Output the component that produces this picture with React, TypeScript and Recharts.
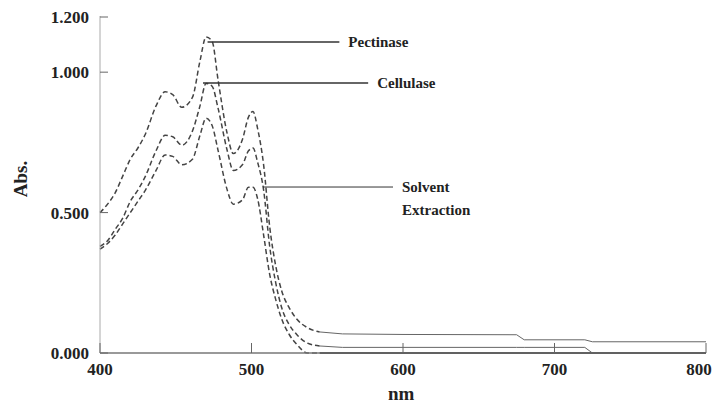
import React from 'react';
import { LineChart, Line, XAxis, YAxis, ReferenceLine } from 'recharts';

// wavelengths (nm) for the absorption band region
const peakNm = [400, 405, 410, 415, 420, 425, 430, 437, 443, 448, 454, 461, 466, 470, 474, 478, 484, 488, 494, 498, 501, 504, 508, 512, 516, 520, 525, 530, 537, 545];
const pectinasePeak = [0.50, 0.53, 0.57, 0.63, 0.69, 0.73, 0.78, 0.88, 0.93, 0.92, 0.875, 0.91, 1.04, 1.125, 1.11, 0.97, 0.78, 0.71, 0.76, 0.84, 0.86, 0.80, 0.67, 0.45, 0.31, 0.22, 0.16, 0.12, 0.09, 0.075];
const cellulasePeak = [0.38, 0.40, 0.44, 0.48, 0.54, 0.58, 0.63, 0.72, 0.775, 0.77, 0.74, 0.79, 0.88, 0.96, 0.95, 0.87, 0.72, 0.65, 0.67, 0.72, 0.73, 0.68, 0.58, 0.38, 0.25, 0.16, 0.10, 0.065, 0.035, 0.025];
const solventPeak = [0.37, 0.39, 0.42, 0.46, 0.50, 0.54, 0.58, 0.65, 0.705, 0.70, 0.67, 0.69, 0.775, 0.836, 0.81, 0.72, 0.58, 0.53, 0.545, 0.59, 0.59, 0.55, 0.42, 0.28, 0.19, 0.12, 0.065, 0.03, 0.0, 0.0];

// flat baseline part
const tailNm = [545, 560, 600, 675, 680, 720, 725, 800];
const pectinaseTail = [0.075, 0.068, 0.066, 0.065, 0.047, 0.047, 0.04, 0.04];
const cellulaseTail = [0.025, 0.02, 0.02, 0.02, 0.02, 0.02, 0.0, 0.0];
const solventTail = [0, 0, 0, 0, 0, 0, 0, 0];

const xTicks = [400, 500, 600, 700, 800];
const yTicks = [0, 0.5, 1.0, 1.2];

const peakRows = peakNm.map((nm, i) => ({
  nm,
  pectinase: pectinasePeak[i],
  cellulase: cellulasePeak[i],
  solvent: solventPeak[i],
}));
const tailRows = tailNm.map((nm, i) => ({
  nm,
  pectinase: pectinaseTail[i],
  cellulase: cellulaseTail[i],
  solvent: solventTail[i],
}));

const FONT = '"Liberation Serif", "DejaVu Serif", serif';

const XTick = ({ x, y, payload }: any) => (
  <g>
    <line x1={x} x2={x} y1={y} y2={y - 10} stroke="#666" strokeWidth={1} />
    {/* last label pulled in a little so it stays on the page */}
    <text x={payload.value === 800 ? x - 7 : x} y={y + 22} textAnchor="middle" fontFamily={FONT} fontWeight="bold" fontSize={17} fill="#222">
      {payload.value}
    </text>
  </g>
);

const YTick = ({ x, y, payload }: any) => (
  <g>
    <line x1={x} x2={x + 8} y1={y} y2={y} stroke="#666" strokeWidth={1} />
    <text x={x - 11} y={y + 6} textAnchor="end" fontFamily={FONT} fontWeight="bold" fontSize={17} fill="#222">
      {payload.value.toFixed(3)}
    </text>
  </g>
);

const NoteLabel = ({ viewBox, lines }: any) => {
  const x = viewBox.x + viewBox.width + 9;
  const y = viewBox.y + 5;
  return (
    <text fontFamily={FONT} fontWeight="bold" fontSize={15} fill="#222">
      {lines.map((t: string, i: number) => (
        <tspan key={t} x={x} y={y + i * 23}>{t}</tspan>
      ))}
    </text>
  );
};

const dashed = { stroke: '#444', strokeWidth: 1.5, strokeDasharray: '5 3' };
const solid = { stroke: '#666', strokeWidth: 1 };

export default function App() {
  return (
    <div style={{ position: 'relative', width: 712, height: 392 }}>
      <LineChart width={712} height={392} margin={{ top: 8, right: 14, left: 32, bottom: 17 }}>
        <XAxis
          type="number"
          dataKey="nm"
          domain={[400, 800]}
          ticks={xTicks}
          height={30}
          tickSize={0}
          tickMargin={0}
          tick={<XTick />}
          stroke="#777"
          strokeWidth={1.5}
          allowDuplicatedCategory={false}
        />
        <YAxis
          type="number"
          domain={[0, 1.2]}
          ticks={yTicks}
          width={60}
          tickSize={0}
          tickMargin={0}
          tick={<YTick />}
          stroke="#aaa"
        />
        <Line data={peakRows} dataKey="pectinase" type="monotone" dot={false} isAnimationActive={false} {...dashed} />
        <Line data={peakRows} dataKey="cellulase" type="monotone" dot={false} isAnimationActive={false} {...dashed} />
        <Line data={peakRows} dataKey="solvent" type="monotone" dot={false} isAnimationActive={false} {...dashed} />
        <Line data={tailRows} dataKey="pectinase" type="linear" dot={false} isAnimationActive={false} {...solid} />
        <Line data={tailRows} dataKey="cellulase" type="linear" dot={false} isAnimationActive={false} {...solid} />
        <Line data={tailRows} dataKey="solvent" type="linear" dot={false} isAnimationActive={false} stroke="#222" strokeWidth={2} />
        <ReferenceLine
          segment={[{ x: 471, y: 1.107 }, { x: 558, y: 1.107 }]}
          stroke="#333"
          strokeWidth={1.5}
          label={<NoteLabel lines={['Pectinase']} />}
        />
        <ReferenceLine
          segment={[{ x: 468, y: 0.961 }, { x: 577, y: 0.961 }]}
          stroke="#333"
          strokeWidth={1.5}
          label={<NoteLabel lines={['Cellulase']} />}
        />
        <ReferenceLine
          segment={[{ x: 507.6, y: 0.591 }, { x: 593.4, y: 0.591 }]}
          stroke="#333"
          strokeWidth={1}
          label={<NoteLabel lines={['Solvent', 'Extraction']} />}
        />
      </LineChart>
      <div style={{ position: 'absolute', left: 380, top: 376, lineHeight: 1, fontFamily: FONT, fontWeight: 'bold', fontSize: 19, color: '#222' }}>
        nm
      </div>
      <div
        style={{
          position: 'absolute',
          left: -5,
          top: 160,
          transform: 'rotate(-90deg)',
          fontFamily: FONT,
          fontWeight: 'bold',
          fontSize: 19,
          color: '#222',
        }}
      >
        Abs.
      </div>
    </div>
  );
}
